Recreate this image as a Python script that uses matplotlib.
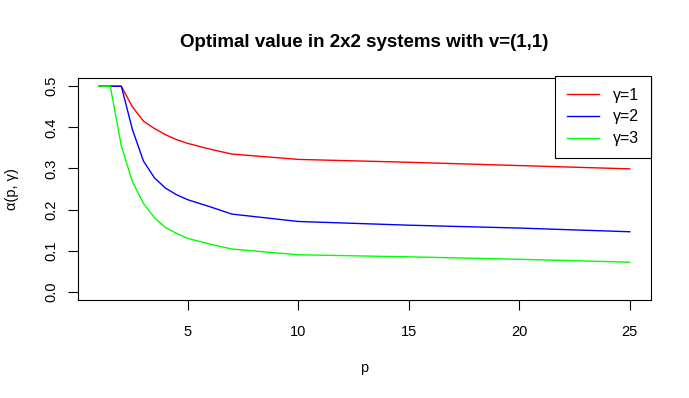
import matplotlib
matplotlib.use("Agg")
import matplotlib.pyplot as plt

plt.rcParams['font.family'] = ['Liberation Sans', 'DejaVu Sans']

p = [1, 1.5, 2, 2.5, 3, 3.5, 4, 4.5, 5, 6, 7, 10, 15, 20, 25]
alpha_g1 = [0.5, 0.5, 0.5, 0.45, 0.415, 0.397, 0.382, 0.370, 0.361, 0.347, 0.335, 0.322, 0.315, 0.307, 0.299]
alpha_g2 = [0.5, 0.5, 0.5, 0.395, 0.318, 0.277, 0.252, 0.236, 0.224, 0.207, 0.189, 0.171, 0.162, 0.155, 0.146]
alpha_g3 = [0.5, 0.5, 0.355, 0.268, 0.215, 0.180, 0.156, 0.142, 0.130, 0.116, 0.104, 0.090, 0.085, 0.079, 0.072]
labels = ["γ=1", "γ=2", "γ=3"]
colors = ["#FF0000", "#0000FF", "#00FF00"]
xticks = [5, 10, 15, 20, 25]
yticks = [0.0, 0.1, 0.2, 0.3, 0.4, 0.5]

fig = plt.figure(figsize=(6.89, 3.98), dpi=100)
ax = fig.add_axes([78/689, 1-300/398, 573/689, 222/398])

for ys, lab, c in zip([alpha_g1, alpha_g2, alpha_g3], labels, colors):
    ax.plot(p, ys, color=c, lw=1.0, label=lab)

xr = p[-1] - p[0]
ax.set_xlim(p[0] - 0.04*xr, p[-1] + 0.04*xr)
ax.set_ylim(-0.02, 0.52)
ax.set_xticks(xticks)
ax.set_yticks(yticks)
ax.set_yticklabels([f"{v:.1f}" for v in yticks], rotation=90, va='center')
ax.tick_params(axis='both', direction='out', length=7, width=0.8, labelsize=10.5)
ax.tick_params(axis='x', pad=11)
ax.tick_params(axis='y', pad=7)
for s in ax.spines.values():
    s.set_linewidth(0.8)

ax.set_title("Optimal value in 2x2 systems with v=(1,1)", fontsize=13.5, fontweight='bold', pad=22)
ax.set_xlabel("p", fontsize=10.5, va='center')
ax.xaxis.set_label_coords(0.5, -0.306)
ax.set_ylabel("α(p, γ)", fontsize=10.5, va='center')
ax.yaxis.set_label_coords(-0.115, 0.5)

leg = ax.legend(loc='upper right', bbox_to_anchor=(1.0, 1.01), borderaxespad=0, fancybox=False,
                edgecolor='black', framealpha=1, fontsize=11.5, handlelength=2.0,
                handletextpad=0.9, labelspacing=0.42, borderpad=0.75)
leg.get_frame().set_linewidth(0.8)

fig.savefig("out.png", dpi=100)
